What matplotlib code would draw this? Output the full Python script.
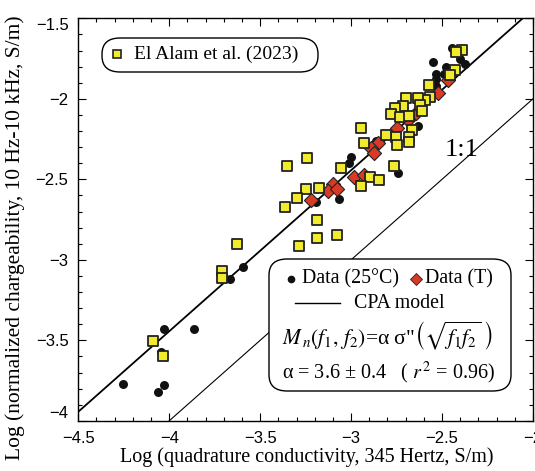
import matplotlib
matplotlib.use("Agg")
import matplotlib.pyplot as plt
from matplotlib.patches import FancyBboxPatch
from matplotlib.lines import Line2D
import numpy as np

plt.rcParams['font.family'] = ['Liberation Serif', 'DejaVu Serif']
plt.rcParams['mathtext.fontset'] = 'stix'

# data (log10 values)
data25_x = [-2.443, -2.549, -2.531, -2.476, -2.403, -2.375, -2.488, -2.531, -2.531,
            -2.632, -2.742, -2.864, -2.998, -3.011, -3.066, -3.194,
            -3.597, -3.666, -4.027, -3.864, -4.047, -4.253, -4.027, -4.060]
data25_y = [-1.683, -1.773, -1.844, -1.800, -1.755, -1.784, -1.849, -1.920, -1.880,
            -2.169, -2.463, -2.262, -2.360, -2.400, -2.624, -2.639,
            -3.043, -3.119, -3.432, -3.432, -3.573, -3.773, -3.778, -3.823]

dataT_x = [-2.525, -2.467, -2.687, -2.644, -2.747, -2.852, -2.892, -2.874,
           -2.985, -2.929, -3.099, -3.126, -3.075, -3.223]
dataT_y = [-1.966, -1.883, -2.132, -2.090, -2.183, -2.273, -2.308, -2.339,
           -2.484, -2.473, -2.529, -2.571, -2.560, -2.629]

elalam_x = [-2.388, -2.421, -2.430, -2.458, -2.571, -2.568, -2.595, -2.632, -2.696,
            -2.623, -2.608, -2.714, -2.760, -2.782, -2.733, -2.681, -2.668, -2.681,
            -2.681, -2.754, -2.745, -2.806, -2.947, -2.930, -3.057, -2.765, -2.897,
            -2.846, -2.943, -3.242, -3.355, -3.249, -3.179, -3.300, -3.364, -3.190,
            -3.185, -3.077, -3.286, -3.626, -3.710, -3.710, -4.088, -4.036]
elalam_y = [-1.697, -1.707, -1.821, -1.852, -1.914, -1.987, -2.007, -1.997, -1.997,
            -2.038, -2.074, -2.045, -2.059, -2.096, -2.115, -2.105, -2.194, -2.239,
            -2.266, -2.235, -2.287, -2.225, -2.183, -2.273, -2.428, -2.417, -2.484,
            -2.504, -2.540, -2.370, -2.416, -2.560, -2.552, -2.614, -2.674, -2.753,
            -2.866, -2.846, -2.914, -2.900, -3.068, -3.115, -3.502, -3.597]

alpha_cpa = 3.6
x_range = [-4.5, -2.0]

W, H = 535, 471
fig = plt.figure(figsize=(W / 100, H / 100), dpi=100)
ax = fig.add_axes([78.3 / W, 1 - 420.8 / H, 454.7 / W, 402.5 / H])


def px(x, y):
    # pixel (from top-left) -> axes fraction
    return (x - 78.3) / 454.7, (420.8 - y) / 402.5


xx = np.array(x_range)
ax.plot(xx, np.log10(alpha_cpa) + xx, color='black', lw=1.3, zorder=2)
ax.plot(xx, xx, color='black', lw=0.8, zorder=2)

ax.scatter(data25_x, data25_y, s=42, color='#111111', zorder=3, linewidths=0)
ax.scatter(dataT_x, dataT_y, s=52, marker='D', color='#d83a26',
           edgecolors='#222222', linewidths=0.8, zorder=4)
ax.scatter(elalam_x, elalam_y, s=48, marker='s', color='#f2ea2c',
           edgecolors='#222222', linewidths=1.3, zorder=5)

ax.text(-2.39, -2.32, '1:1', fontsize=19, ha='center', va='center')

ax.set_xlim(-4.5, -2)
ax.set_ylim(-4, -1.5)
ax.set_xticks(np.arange(-4.5, -1.99, 0.5))
ax.set_yticks(np.arange(-4, -1.49, 0.5))
ax.set_xticks(np.arange(-4.5, -1.99, 0.1), minor=True)
ax.set_yticks(np.arange(-4, -1.49, 0.1), minor=True)
ax.set_xticklabels(['\u22124.5', '\u22124', '\u22123.5', '\u22123', '\u22122.5', '\u22122'],
                   family='Liberation Sans', fontsize=12)
ylabs = ax.set_yticklabels(['\u22124', '\u22123.5', '\u22123', '\u22122.5', '\u22122', '\u22121.5'],
                           family='Liberation Sans', fontsize=12)
# end labels pulled inward like the original
ylabs[0].set_va('bottom')
ylabs[-1].set_va('top')
ax.tick_params(which='both', direction='in', top=True, right=True, width=0.8)
ax.tick_params(which='major', length=6, pad=7)
ax.tick_params(which='minor', length=3)
for sp in ax.spines.values():
    sp.set_linewidth(1.0)

ax.set_xlabel('Log (quadrature conductivity, 345 Hertz, S/m)', fontsize=14.5)
ax.xaxis.set_label_coords(px(307, 0)[0], px(0, 447)[1])
ax.set_ylabel('Log (normalized chargeability, 10 Hz-10 kHz, S/m)', fontsize=15.5)
ax.yaxis.set_label_coords(px(25, 0)[0], px(0, 238)[1])

# legend box 1
x0, y0 = px(102, 72)
x1, y1 = px(318, 38)
ax.add_patch(FancyBboxPatch((x0, y0), x1 - x0, y1 - y0, transform=ax.transAxes,
                            boxstyle='round,pad=0,rounding_size=0.04',
                            fc='white', ec='black', lw=1.0, zorder=6))
ax.add_line(Line2D([px(117, 54)[0]], [px(117, 54)[1]], transform=ax.transAxes,
                   marker='s', ms=6, color='#f2ea2c', mec='#222222', mew=1.2, zorder=7))
ax.text(*px(134, 54), 'El Alam et al. (2023)', transform=ax.transAxes,
        fontsize=14, va='center', ha='left', zorder=7)

# legend box 2
x0, y0 = px(269, 391)
x1, y1 = px(511, 259)
ax.add_patch(FancyBboxPatch((x0, y0), x1 - x0, y1 - y0, transform=ax.transAxes,
                            boxstyle='round,pad=0,rounding_size=0.04',
                            fc='white', ec='black', lw=1.0, zorder=6))
ax.add_line(Line2D([px(291, 279)[0]], [px(291, 279)[1]], transform=ax.transAxes,
                   marker='o', ms=5.5, color='#111111', mew=0, zorder=7))
ax.text(*px(302, 279), 'Data (25\u00b0C)', transform=ax.transAxes,
        fontsize=14.3, va='center', ha='left', zorder=7)
ax.add_line(Line2D([px(416, 279)[0]], [px(416, 279)[1]], transform=ax.transAxes,
                   marker='D', ms=6, color='#d83a26', mec='#222222', mew=0.6, zorder=7))
ax.text(*px(425, 279), 'Data (T)', transform=ax.transAxes,
        fontsize=14.3, va='center', ha='left', zorder=7)
lx0, ly = px(295, 303)
lx1, _ = px(340, 303)
ax.add_line(Line2D([lx0, lx1], [ly, ly], transform=ax.transAxes,
                   color='black', lw=1.0, zorder=7))
ax.text(*px(354, 303), 'CPA model', transform=ax.transAxes,
        fontsize=14.3, va='center', ha='left', zorder=7)
ax.text(*px(282, 336),
        r'$M_{\,n}\left(f_1,\,f_2\right)$=α σ"$\left(\sqrt{f_1 f_2}\;\right)$',
        transform=ax.transAxes, fontsize=15.5, va='center', ha='left', zorder=7)
ax.text(*px(282, 373), 'α = 3.6 ± 0.4   ( $r^{\\,2}$ = 0.96)',
        transform=ax.transAxes, fontsize=14.5, va='center', ha='left', zorder=7)

fig.savefig('out.png', dpi=100)
